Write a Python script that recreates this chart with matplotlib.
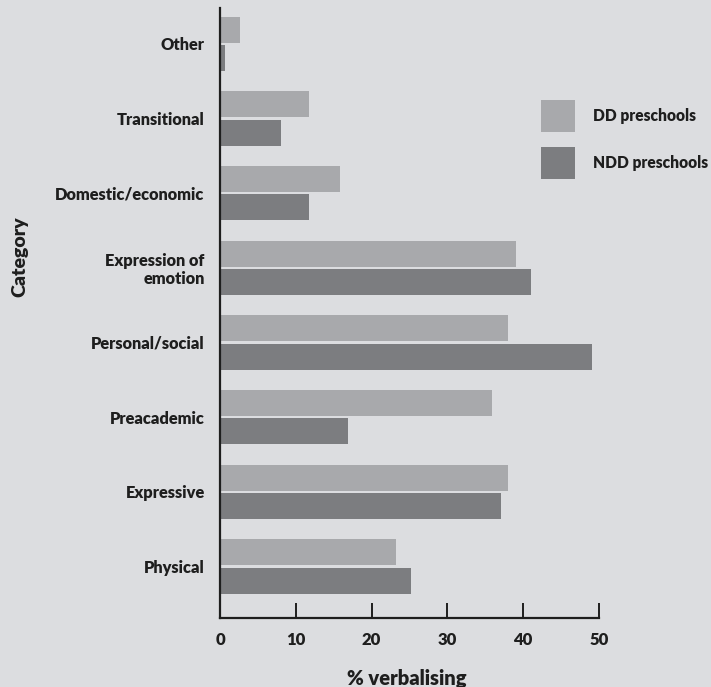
import matplotlib
matplotlib.use("Agg")
import matplotlib.pyplot as plt
import numpy as np

categories = ["Physical", "Expressive", "Preacademic", "Personal/social",
              "Expression of\nemotion", "Domestic/economic", "Transitional", "Other"]
dd_values = [23.2, 38.0, 35.9, 38.0, 39.0, 15.8, 11.8, 2.7]
ndd_values = [25.2, 37.1, 16.9, 49.1, 41.0, 11.8, 8.0, 0.7]
series_names = ["DD preschools", "NDD preschools"]
x_ticks = [0, 10, 20, 30, 40, 50]

BG = "#dcdde0"
DD_COLOR = "#a8a9ac"
NDD_COLOR = "#7c7d80"
INK = "#1e1e1e"
FONT = ["Lato", "DejaVu Sans"]
W = "heavy"

plt.rcParams["font.family"] = FONT

fig = plt.figure(figsize=(7.11, 6.87), dpi=100, facecolor=BG)
ax = fig.add_axes([220/711, 1-618/687, (599-220)/711, (618-8)/687])
ax.set_facecolor(BG)

y = np.arange(len(categories))
h = 0.35
off = 0.19
ax.barh(y + off, dd_values, height=h, color=DD_COLOR, label=series_names[0])
ax.barh(y - off, ndd_values, height=h, color=NDD_COLOR, label=series_names[1])

ax.set_xlim(0, 50)
ax.set_ylim(-0.69, 7.48)
ax.set_xticks(x_ticks)
ax.set_xticklabels([str(t) for t in x_ticks], fontsize=12, fontweight=W, color=INK)
ax.set_yticks(y)
ax.set_yticklabels(categories, fontsize=11.8, fontweight=W, color=INK)
ax.tick_params(axis="x", direction="in", length=11, width=1.4, color=INK, pad=10)
ax.tick_params(axis="y", length=0, pad=11)
for lab in ax.get_yticklabels():
    lab.set_multialignment("right")
    lab.set_linespacing(1.1)

for s in ["top", "right"]:
    ax.spines[s].set_visible(False)
for s in ["left", "bottom"]:
    ax.spines[s].set_color(INK)
    ax.spines[s].set_linewidth(1.6)

fig.text(407/711, 1-678/687, "% verbalising", ha="center", va="center",
         fontsize=14.5, fontweight=W, color=INK)
fig.text(20/711, 1-257/687, "Category", ha="center", va="center", rotation=90,
         fontsize=14, fontweight=W, color=INK)

leg = fig.legend(loc="upper left", bbox_to_anchor=(535/711, 1-94/687), frameon=False,
                 handlelength=2.2, handleheight=2.75, handletextpad=1.15, labelspacing=1.0,
                 borderaxespad=0, borderpad=0.4,
                 prop={"family": FONT, "weight": W, "size": 11.2})
for t in leg.get_texts():
    t.set_color(INK)

fig.savefig("out.png", dpi=100, facecolor=BG)
